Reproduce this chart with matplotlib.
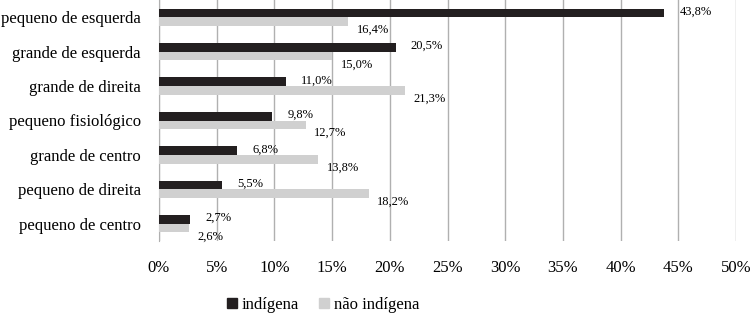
import matplotlib
matplotlib.use("Agg")
import matplotlib.pyplot as plt
import numpy as np
from matplotlib.patches import Patch

categories = ["pequeno de esquerda", "grande de esquerda", "grande de direita",
              "pequeno fisiológico", "grande de centro", "pequeno de direita",
              "pequeno de centro"]
indigena = [43.8, 20.5, 11.0, 9.8, 6.8, 5.5, 2.7]
nao_indigena = [16.4, 15.0, 21.3, 12.7, 13.8, 18.2, 2.6]
xticks = [0, 5, 10, 15, 20, 25, 30, 35, 40, 45, 50]

plt.rcParams['font.family'] = ['Liberation Serif', 'DejaVu Serif']

fig = plt.figure(figsize=(7.5, 3.16), dpi=100)
ax = fig.add_axes([159/750, 1 - 241/316, (736-159)/750, 241/316])

n = len(categories)
y = np.arange(n)
h = 0.25
black = "#231f20"
gray = "#d0d0d0"
ax.barh(y - h/2, indigena, height=h, color=black, zorder=3)
ax.barh(y + h/2, nao_indigena, height=h, color=gray, zorder=3)

def fmt(v):
    return f"{v:.1f}%".replace(".", ",")

for i in range(n):
    ax.annotate(fmt(indigena[i]), (indigena[i], y[i] - h/2), xytext=(11, 1),
                textcoords="offset points", fontsize=9, va="center", ha="left")
    ax.annotate(fmt(nao_indigena[i]), (nao_indigena[i], y[i] + h/2), xytext=(6, -6),
                textcoords="offset points", fontsize=9, va="center", ha="left")

ax.set_ylim(n - 0.5, -0.5)
ax.set_xlim(0, 50)
ax.set_xticks(xticks)
ax.set_xticklabels([f"{t}%" for t in xticks], fontsize=12)
ax.set_yticks(y)
ax.set_yticklabels(categories, fontsize=12)
ax.tick_params(axis="both", length=0)
ax.tick_params(axis="x", pad=14)
ax.tick_params(axis="y", pad=13)
ax.grid(axis="x", color="#b0b0b0", linewidth=1, zorder=0)
for s in ["top", "right", "bottom"]:
    ax.spines[s].set_visible(False)
ax.spines["left"].set_color("#b0b0b0")

handles = [Patch(color=black, label="indígena"), Patch(color=gray, label="não indígena")]
fig.legend(handles=handles, loc="center", bbox_to_anchor=(323/750, 1 - 305/316),
           ncol=2, frameon=False, fontsize=12, handlelength=0.6, handleheight=0.6,
           handletextpad=0.3, columnspacing=1.2)

fig.savefig("out.png", dpi=100)
